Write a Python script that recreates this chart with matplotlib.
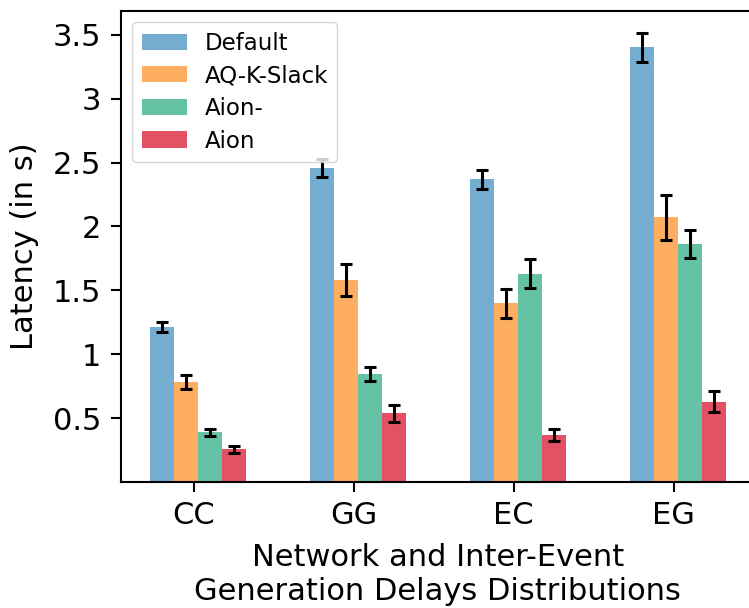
import numpy as np
import matplotlib
matplotlib.use('Agg')
import matplotlib.pyplot as plt
from matplotlib.ticker import FormatStrFormatter

categories = ['CC', 'GG', 'EC', 'EG']
series = ['Default', 'AQ-K-Slack', 'Aion-', 'Aion']

default_mean = [1.21, 2.46, 2.37, 3.40]
default_err = [0.04, 0.07, 0.075, 0.11]
aqk_mean = [0.78, 1.58, 1.40, 2.07]
aqk_err = [0.056, 0.128, 0.113, 0.175]
aion_minus_mean = [0.39, 0.845, 1.63, 1.865]
aion_minus_err = [0.026, 0.056, 0.112, 0.11]
aion_mean = [0.255, 0.537, 0.367, 0.63]
aion_err = [0.03, 0.064, 0.045, 0.084]

colors = ['#75add1', '#fdae61', '#66c2a5', '#e35264']

means = [default_mean, aqk_mean, aion_minus_mean, aion_mean]
errs = [default_err, aqk_err, aion_minus_err, aion_err]
offsets = [-0.2, -0.05, 0.1, 0.25]
width = 0.15

fig = plt.figure(figsize=(7.49, 6.08), dpi=100)
ax = fig.add_axes([0.1615, 0.2072, 0.846, 0.7747])

x = np.arange(len(categories))
for name, m, e, off, c in zip(series, means, errs, offsets, colors):
    ax.bar(x + off, m, width, color=c, label=name,
           yerr=e, capsize=4.5,
           error_kw=dict(ecolor='black', elinewidth=2.2, capthick=2.2))

ax.set_xticks(x)
ax.set_xticklabels(categories)
ax.set_yticks([0.5, 1, 1.5, 2, 2.5, 3, 3.5])
ax.yaxis.set_major_formatter(FormatStrFormatter('%g'))
ax.tick_params(labelsize=22, length=7, width=1.5, pad=7)
for s in ax.spines.values():
    s.set_linewidth(1.5)

ax.set_ylabel('Latency (in s)', fontsize=22, labelpad=10)
ax.set_xlabel('Network and Inter-Event\nGeneration Delays Distributions', fontsize=22, labelpad=9)
ax.legend(loc='upper left', fontsize=16.5, labelspacing=0.42, handletextpad=0.75)

fig.savefig('out.png', dpi=100)
